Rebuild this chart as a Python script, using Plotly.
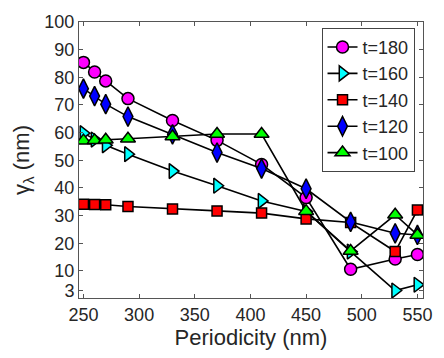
import plotly.graph_objects as go

periodicity = [250, 260, 270, 290, 330, 370, 410, 450, 490, 530, 550]
t180 = [85.4, 81.9, 78.7, 72.3, 64.4, 57.2, 48.5, 36.5, 10.6, 14.3, 15.9]
t160 = [59.8, 57.5, 55.4, 52.2, 46.1, 40.8, 35.3, 31.5, 17.0, 2.9, 5.0]
t140 = [34.1, 34.0, 33.9, 33.3, 32.4, 31.7, 30.9, 28.8, 27.5, 17.0, 32.0]
t120 = [75.9, 73.2, 70.3, 65.8, 59.4, 52.8, 47.0, 39.7, 27.7, 23.6, 23.0]
t100 = [57.1, 57.2, 57.4, 57.8, 58.6, 59.5, 59.5, 31.6, 17.2, 30.3, 23.0]

series = [
    ("t=180", t180, "circle", "#ff00ff", 12),
    ("t=160", t160, "triangle-right", "#00ffff", 13),
    ("t=140", t140, "square", "#ff0000", 10),
    ("t=120", t120, "diamond-tall", "#0000ff", 14),
    ("t=100", t100, "triangle-up", "#00ff00", 13),
]

fig = go.Figure()
for name, ys, sym, col, sz in series:
    fig.add_trace(go.Scatter(
        x=periodicity, y=ys, name=name, mode="lines+markers",
        line=dict(color="black", width=1.6),
        marker=dict(symbol=sym, color=col, size=sz,
                    line=dict(color="black", width=1.5)),
    ))

font_family = "Liberation Sans, Arial, sans-serif"
fig.update_layout(
    width=444, height=358,
    margin=dict(l=79, r=12, t=15, b=58),
    paper_bgcolor="white", plot_bgcolor="white",
    font=dict(family=font_family, size=18, color="#262626"),
    showlegend=True,
    legend=dict(
        x=0.705, y=0.979, xanchor="left", yanchor="top",
        bgcolor="white", bordercolor="#444444", borderwidth=1,
        font=dict(size=18), tracegroupgap=0, itemwidth=30,
    ),
    xaxis=dict(
        range=[246, 555], tickvals=[250, 300, 350, 400, 450, 500, 550],
        showline=True, linecolor="#555555", linewidth=1, mirror="ticks",
        ticks="inside", ticklen=4, tickcolor="#555555",
        showgrid=False, zeroline=False,
        title=dict(text="Periodicity (nm)", standoff=6),
    ),
    yaxis=dict(
        range=[0.2, 100], tickvals=[3, 10, 20, 30, 40, 50, 60, 70, 80, 90, 100],
        showline=True, linecolor="#555555", linewidth=1, mirror="ticks",
        ticks="inside", ticklen=4, tickcolor="#555555",
        showgrid=False, zeroline=False,
        title=dict(text="γ<sub>λ</sub> (nm)", standoff=8),
    ),
)

fig.write_html("out.html", config={"displayModeBar": False},
               post_script="document.body.style.margin='0';")
